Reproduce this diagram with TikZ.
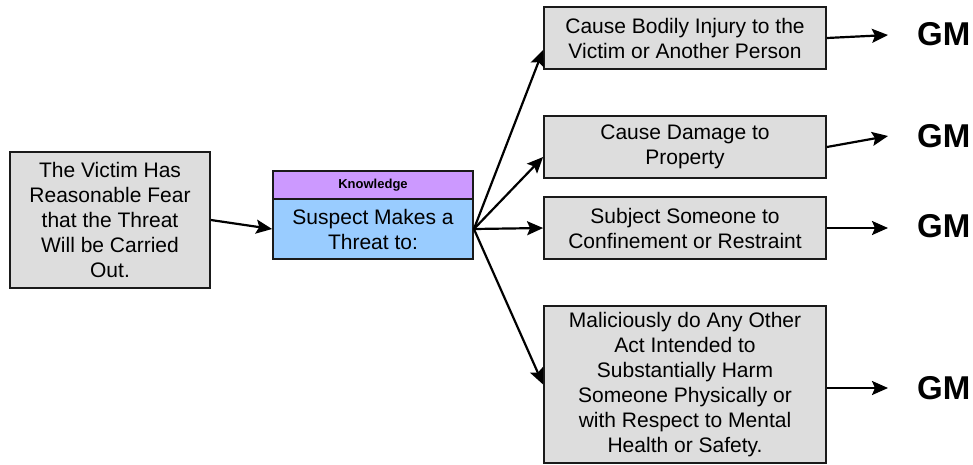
\documentclass[tikz,border=0pt]{standalone}
\usepackage{fontspec}
\setmainfont{Liberation Sans}
\usetikzlibrary{arrows.meta,calc}
\definecolor{boxgray}{HTML}{DDDDDD}
\definecolor{knowpurple}{HTML}{CC99FF}
\definecolor{threatblue}{HTML}{99CCFF}
\definecolor{edgecol}{HTML}{1A1A1A}
\begin{document}
\begin{tikzpicture}[x=1pt,y=-1pt,
  box/.style={draw=edgecol, line width=1.8pt, fill=boxgray, align=center,
    font=\fontsize{21}{25}\selectfont, inner sep=0pt},
  knowbox/.style={draw=edgecol, line width=1.8pt, fill=knowpurple, align=center,
    font=\fontsize{13}{15}\selectfont\bfseries, inner sep=0pt,
    minimum width=200pt, minimum height=28pt},
  threatbox/.style={draw=edgecol, line width=1.8pt, fill=threatblue, align=center,
    font=\fontsize{21}{25}\selectfont, inner sep=0pt,
    minimum width=200pt, minimum height=60pt},
  actbox/.style={box, minimum width=282pt},
  gmlabel/.style={font=\fontsize{33}{36}\selectfont\bfseries, inner sep=0pt, anchor=west},
  conn/.style={line width=2.2pt, -{Stealth[length=16pt,width=14pt,inset=3pt]}}
]
\useasboundingbox (0,0) rectangle (973,464);

% left box
\node[box, minimum width=200pt, minimum height=136pt] (victim) at (110,220)
  {The Victim Has\\Reasonable Fear\\that the Threat\\Will be Carried\\Out.};

% middle box
\node[knowbox] (know) at (373,185) {Knowledge};
\node[threatbox] (threat) at (373,229) {Suspect Makes a\\Threat to:};

% right boxes
\node[actbox, minimum height=62pt] (b1) at (685,38)
  {Cause Bodily Injury to the\\Victim or Another Person};
\node[actbox, minimum height=62pt] (b2) at (685,147)
  {Cause Damage to\\Property};
\node[actbox, minimum height=62pt] (b3) at (685,228)
  {Subject Someone to\\Confinement or Restraint};
\node[actbox, minimum height=157pt] (b4) at (685,384.5)
  {Maliciously do Any Other\\Act Intended to\\Substantially Harm\\Someone Physically or\\with Respect to Mental\\Health or Safety.};

% GM labels
\node[gmlabel] (g1) at (917,34) {GM};
\node[gmlabel] (g2) at (917,136) {GM};
\node[gmlabel] (g3) at (917,226) {GM};
\node[gmlabel] (g4) at (917,388) {GM};

% connectors
\draw[conn] (victim.east) -- (threat.west);
\draw[conn] (threat.east) -- ([yshift=-12pt]b1.west);
\draw[conn] (threat.east) -- ([yshift=-10pt]b2.west);
\draw[conn] (threat.east) -- (b3.west);
\draw[conn] (threat.east) -- (b4.west);

\draw[conn] (b1.east) -- ([xshift=-29pt,yshift=-1pt]g1.west);
\draw[conn] (b2.east) -- ([xshift=-29pt]g2.west);
\draw[conn] (b3.east) -- ([xshift=-29pt,yshift=-2pt]g3.west);
\draw[conn] ([yshift=-3.5pt]b4.east) -- ([xshift=-29pt]g4.west);
\end{tikzpicture}
\end{document}
